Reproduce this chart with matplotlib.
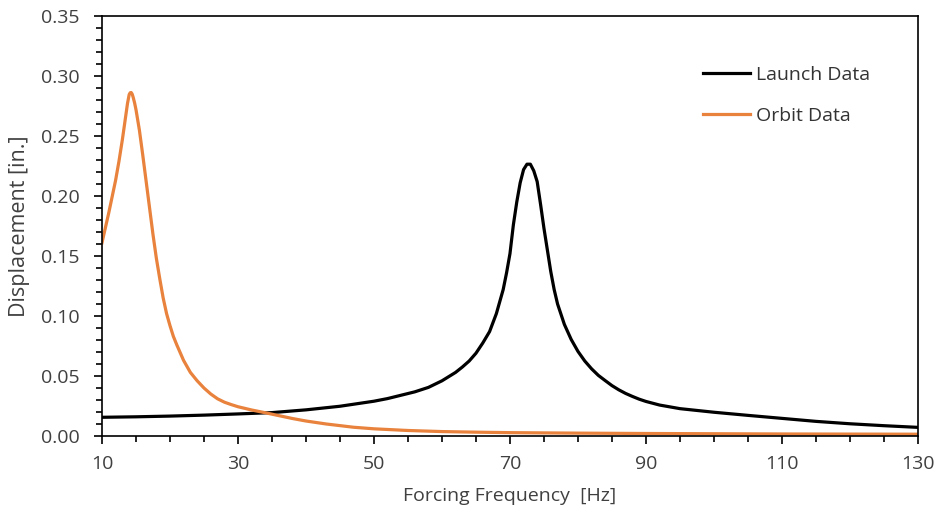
import matplotlib
matplotlib.use("Agg")
import matplotlib.pyplot as plt
from matplotlib.ticker import MultipleLocator, FixedLocator

plt.rcParams['font.family'] = ['Open Sans', 'DejaVu Sans']

# Launch Data (frequency Hz, displacement in.)
launch_f = [10, 15, 20, 25, 30, 35, 40, 45, 50, 52, 54, 56, 58, 60, 62, 63, 64, 65, 66, 67, 68,
            69, 69.5, 70, 70.5, 71, 71.5, 72, 72.5, 73, 73.5, 74, 74.5, 75, 75.5, 76, 76.5, 77,
            78, 79, 80, 81, 82, 83, 84, 85, 86, 87, 88, 89, 90, 92, 95, 100, 105, 110, 115,
            120, 125, 130]
launch_d = [0.0156, 0.0160, 0.0166, 0.0174, 0.0184, 0.0195, 0.0218, 0.0248, 0.0290, 0.0312,
            0.0340, 0.0368, 0.0405, 0.0460, 0.0530, 0.0575, 0.0625, 0.0690, 0.0775, 0.0870,
            0.1020, 0.1220, 0.1360, 0.1520, 0.1760, 0.1950, 0.2110, 0.2220, 0.2265, 0.2265,
            0.2210, 0.2120, 0.1930, 0.1730, 0.1550, 0.1370, 0.1220, 0.1100, 0.0930, 0.0805,
            0.0705, 0.0625, 0.0560, 0.0505, 0.0462, 0.0420, 0.0385, 0.0355, 0.0330, 0.0307,
            0.0288, 0.0258, 0.0228, 0.0198, 0.0172, 0.0147, 0.0122, 0.0102, 0.0086, 0.0072]

# Orbit Data
orbit_f = [10, 11, 12, 12.5, 13, 13.5, 13.75, 14, 14.15, 14.3, 14.45, 14.6, 14.8, 15, 15.5, 16,
           16.5, 17, 17.5, 18, 18.5, 19, 19.5, 20, 20.5, 21, 22, 23, 24, 25, 26, 27, 28, 29,
           30, 32, 34, 36, 38, 40, 43, 47, 50, 55, 60, 65, 70, 80, 90, 100, 110, 120, 130]
orbit_d = [0.161, 0.186, 0.213, 0.229, 0.247, 0.267, 0.277, 0.2845, 0.2860, 0.2862, 0.2848,
           0.2820, 0.2775, 0.2720, 0.2550, 0.2340, 0.2120, 0.1900, 0.1680, 0.1480, 0.1310,
           0.1150, 0.1020, 0.0920, 0.0830, 0.0760, 0.0630, 0.0530, 0.0460, 0.0400, 0.0350,
           0.0310, 0.0282, 0.0262, 0.0244, 0.0217, 0.0194, 0.0170, 0.0146, 0.0125, 0.0100,
           0.0073, 0.0060, 0.0046, 0.0037, 0.0032, 0.0028, 0.0024, 0.0021, 0.0019, 0.0017,
           0.0016, 0.0015]

x_ticks = [10, 30, 50, 70, 90, 110, 130]
y_ticks = [0.00, 0.05, 0.10, 0.15, 0.20, 0.25, 0.30, 0.35]

fig = plt.figure(figsize=(9.39, 5.19), dpi=100)
ax = fig.add_axes([0.1086, 0.1599, 0.8690, 0.8093])

ax.plot(launch_f, launch_d, color='black', lw=2.3, label='Launch Data', solid_joinstyle='round')
ax.plot(orbit_f, orbit_d, color='#E8823C', lw=2.3, label='Orbit Data', solid_joinstyle='round')

ax.set_xlim(10, 130)
ax.set_ylim(0, 0.35)
ax.xaxis.set_major_locator(FixedLocator(x_ticks))
ax.xaxis.set_minor_locator(MultipleLocator(5))
ax.yaxis.set_major_locator(FixedLocator(y_ticks))
ax.yaxis.set_minor_locator(MultipleLocator(0.01))
ax.set_xticklabels([str(v) for v in x_ticks])
ax.set_yticklabels([f"{v:.2f}" for v in y_ticks])

ax.tick_params(axis='both', which='major', direction='out', length=6, width=1.2,
               labelsize=14, colors='black', labelcolor='#404040')
ax.tick_params(axis='y', which='major', pad=10)
ax.tick_params(axis='x', which='major', pad=8)
ax.tick_params(axis='both', which='minor', direction='out', length=4, width=1.2)
for s in ax.spines.values():
    s.set_linewidth(1.2)
    s.set_color('black')

ax.set_xlabel('Forcing Frequency  [Hz]', fontsize=14, color='#404040', labelpad=10)
ax.set_ylabel('Displacement [in.]', fontsize=15.5, color='#404040', labelpad=8)

leg = ax.legend(loc='center left', bbox_to_anchor=(0.7365, 0.811), frameon=False, fontsize=14,
                handlelength=2.4, handletextpad=0.35, labelspacing=1.2,
                borderpad=0, borderaxespad=0)
for t in leg.get_texts():
    t.set_color('#333333')

fig.savefig('out.png', dpi=100)
